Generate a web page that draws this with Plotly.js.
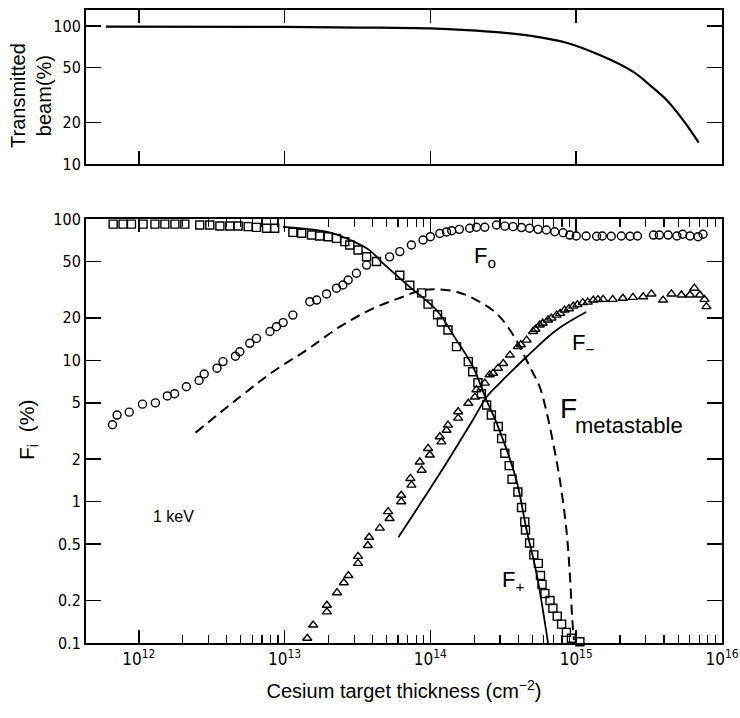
<!DOCTYPE html>
<html><head><meta charset="utf-8">
<script src="https://cdn.plot.ly/plotly-3.0.1.min.js"></script>
<style>body{margin:0;background:#fff}</style>
</head><body><div id="chart" style="width:740px;height:718px"></div>
<script>
// ---- Top panel: transmitted beam (%) vs cesium thickness (cm^-2)
const beamThickness = [5.94e11, 1e13, 3.16e13, 1e14, 1.78e14, 2.99e14, 5.01e14, 8.57e14, 1.45e15, 2.45e15, 3.20e15, 4.17e15, 5.41e15, 6.92e15];
const beamPercent   = [99, 98.5, 97.5, 96, 93.5, 90, 84.6, 75.7, 61.6, 46.7, 37.3, 29.1, 20.8, 14.3];

// ---- Bottom panel: measured fractions
const f0Thickness = [6.6e11, 7.1e11, 8.6e11, 1.06e12, 1.30e12, 1.57e12, 1.76e12, 2.12e12, 2.59e12, 2.81e12, 3.44e12, 3.78e12, 4.6e12, 4.93e12, 5.77e12, 6.41e12, 7.94e12, 8.79e12, 9.77e12, 1.14e13, 1.49e13, 1.66e13, 1.94e13, 2.27e13, 2.51e13, 2.73e13, 3.11e13, 3.65e13, 5.25e13, 6.17e13, 7.41e13, 8.91e13, 1.0e14, 1.16e14, 1.29e14, 1.40e14, 1.58e14, 1.86e14, 2.07e14, 2.36e14, 2.84e14, 3.24e14, 3.69e14, 4.22e14, 4.79e14, 5.48e14, 6.25e14, 7.13e14, 8.13e14, 9.04e14, 1.0e15, 1.17e15, 1.38e15, 1.51e15, 1.74e15, 2.04e15, 2.34e15, 2.63e15, 3.39e15, 3.72e15, 4.27e15, 4.9e15, 5.37e15, 6.03e15, 6.85e15, 7.41e15];
const f0Percent   = [3.5, 4.1, 4.3, 4.9, 5.0, 5.6, 5.8, 6.5, 7.2, 8.0, 8.8, 9.8, 10.7, 11.5, 13.2, 14.3, 16.0, 17.3, 18.5, 20.9, 26, 26.7, 29.5, 32.4, 34.1, 37, 41.3, 47.2, 54, 58.8, 65.5, 71, 75, 79, 81, 82.6, 84.5, 86, 87.4, 87.4, 90.7, 89, 88.3, 87, 86, 84.5, 83.6, 81.3, 80, 77, 75.8, 75.8, 75.5, 75.8, 75.5, 75.8, 75.5, 75.8, 77, 77, 77, 75.8, 78, 75.8, 75, 78];

const fPlusThickness = [6.67e11, 7.80e11, 8.91e11, 1.07e12, 1.29e12, 1.51e12, 1.77e12, 2.07e12, 2.62e12, 3.07e12, 3.60e12, 4.21e12, 4.80e12, 5.62e12, 6.41e12, 7.52e12, 8.55e12, 1.14e13, 1.31e13, 1.53e13, 1.74e13, 1.99e13, 2.27e13, 2.59e13, 2.80e13, 3.19e13, 3.65e13, 4.27e13, 6.17e13, 7.23e13, 8.71e13, 9.64e13, 1.12e14, 1.19e14, 1.32e14, 1.51e14, 1.82e14, 1.95e14, 2.12e14, 2.24e14, 2.43e14, 2.62e14, 2.92e14, 3.08e14, 3.24e14, 3.47e14, 3.63e14, 3.98e14, 4.22e14, 4.44e14, 4.49e14, 4.79e14, 5.12e14, 5.50e14, 5.69e14, 5.83e14, 6.10e14, 6.61e14, 6.92e14, 7.41e14, 7.94e14, 8.57e14, 9.27e14, 1.06e15];
const fPlusPercent   = [92, 92, 92, 92, 92, 92, 92, 92, 90.7, 90.7, 89.2, 89.2, 89.2, 88.3, 87.3, 86, 86, 80.5, 79.3, 77.1, 75.9, 75, 73, 69.2, 65.5, 60.3, 54.1, 50, 40, 34, 30, 25, 21, 18.7, 16.4, 12.5, 9.8, 8.3, 6.95, 5.8, 4.83, 4.1, 3.4, 2.8, 2.2, 1.8, 1.44, 1.17, 0.91, 0.72, 0.63, 0.51, 0.42, 0.366, 0.30, 0.26, 0.224, 0.20, 0.176, 0.155, 0.136, 0.119, 0.108, 0.102];

const fMinusThickness = [1.43e13, 1.57e13, 1.95e13, 1.95e13, 2.29e13, 2.55e13, 2.74e13, 3.19e13, 3.19e13, 3.72e13, 3.80e13, 4.50e13, 5.13e13, 5.25e13, 6.31e13, 6.31e13, 7.29e13, 7.41e13, 8.45e13, 8.71e13, 9.64e13, 9.91e13, 1.16e14, 1.19e14, 1.29e14, 1.32e14, 1.55e14, 1.55e14, 1.82e14, 2.02e14, 2.07e14, 2.36e14, 2.55e14, 2.69e14, 2.91e14, 3.16e14, 3.51e14, 3.98e14, 4.17e14, 4.57e14, 5.06e14, 5.25e14, 5.62e14, 5.89e14, 6.41e14, 6.76e14, 7.33e14, 7.76e14, 8.32e14, 8.91e14, 9.55e14, 1.02e15, 1.11e15, 1.20e15, 1.31e15, 1.41e15, 1.53e15, 1.78e15, 2.09e15, 2.45e15, 2.88e15, 3.28e15, 3.94e15, 4.50e15, 5.27e15, 6.03e15, 6.46e15, 7.05e15, 7.59e15, 7.82e15];
const fMinusPercent   = [0.108, 0.134, 0.166, 0.185, 0.227, 0.267, 0.30, 0.366, 0.41, 0.49, 0.56, 0.65, 0.85, 0.76, 1.11, 1.0, 1.46, 1.31, 1.91, 1.67, 2.38, 2.14, 2.88, 2.65, 3.2, 3.48, 3.9, 4.33, 4.97, 5.5, 6.2, 6.9, 7.9, 8.1, 8.8, 9.5, 10.9, 12.5, 12.9, 13.9, 16, 16.6, 17.8, 18.3, 19.3, 19.9, 20.9, 21.5, 22.7, 23.2, 24.2, 24.8, 25.6, 25.8, 26.7, 26.9, 27, 27, 27.5, 27.9, 28.2, 29.5, 26.7, 29.5, 29, 29, 32.4, 29, 27, 24];

// ---- Bottom panel: calculated curves
const fPlusCalcThickness = [9.77e12, 1.58e13, 2.15e13, 2.82e13, 3.84e13, 4.74e13, 7.24e13, 1.10e14, 1.51e14, 1.96e14, 2.43e14, 2.91e14, 3.89e14, 4.57e14, 5.35e14, 6.41e14];
const fPlusCalcPercent   = [88, 84, 79, 71, 60, 48.5, 33, 22.7, 13.9, 9.0, 5.2, 3.4, 1.42, 0.63, 0.31, 0.1];

const fMinusCalcThickness = [6.03e13, 1.16e14, 1.96e14, 2.43e14, 2.99e14, 4.57e14, 7.33e14, 1.17e15];
const fMinusCalcPercent   = [0.56, 1.58, 3.8, 5.5, 6.9, 10.6, 16.4, 22];

const fMetaThickness = [2.45e12, 4.93e12, 8.32e12, 1.41e13, 2.40e13, 4.05e13, 6.50e13, 8.45e13, 1.10e14, 1.51e14, 2.07e14, 2.84e14, 3.51e14, 4.10e14, 4.81e14, 5.62e14, 6.17e14, 6.76e14, 7.73e14, 8.57e14, 9.04e14, 9.38e14, 9.64e14];
const fMetaPercent   = [3.08, 5.5, 8.3, 11.8, 17.3, 23.3, 28.2, 31.1, 31.8, 30.6, 26.7, 21.5, 16.4, 12.5, 9.0, 6.5, 4.6, 3.0, 1.42, 0.63, 0.31, 0.153, 0.105];

// ---- Tick labels
const xTickVals = [1e12, 1e13, 1e14, 1e15, 1e16];
const xTickText = ['10<sup>12</sup>', '10<sup>13</sup>', '10<sup>14</sup>', '10<sup>15</sup>', '10<sup>16</sup>'];
const yTickVals = [0.1, 0.2, 0.5, 1, 2, 5, 10, 20, 50, 100];
const yTickText = ['0.1', '0.2', '0.5', '1', '2', '5', '10', '20', '50', '100'];
const topYTickVals = [10, 20, 50, 100];
const topYTickText = ['10', '20', '50', '100'];

const minorVals = [];
for (let d = 12; d <= 15; d++) for (let m = 2; m <= 9; m++) minorVals.push(m * Math.pow(10, d));

const TXT = 'Liberation Sans, Arial, sans-serif';
const TICK = 'Liberation Sans Narrow, DejaVu Sans Condensed, Liberation Sans, sans-serif';
const K = '#000';

const mk = (sym) => ({symbol: sym, size: 8, color: K, line: {color: K, width: 1.4}});

const traces = [
  {x: beamThickness, y: beamPercent, xaxis: 'x2', yaxis: 'y2', mode: 'lines', line: {color: K, width: 2.2, shape: 'spline'}},
  {x: fPlusCalcThickness, y: fPlusCalcPercent, mode: 'lines', line: {color: K, width: 1.8, shape: 'spline'}},
  {x: fMinusCalcThickness, y: fMinusCalcPercent, mode: 'lines', line: {color: K, width: 1.8, shape: 'spline'}},
  {x: fMetaThickness, y: fMetaPercent, mode: 'lines', line: {color: K, width: 2, shape: 'spline', dash: '10px,6px'}},
  {x: f0Thickness, y: f0Percent, mode: 'markers', marker: mk('circle-open'), cliponaxis: false},
  {x: fPlusThickness, y: fPlusPercent, mode: 'markers', marker: mk('square-open'), cliponaxis: false},
  {x: fMinusThickness, y: fMinusPercent, mode: 'markers', marker: mk('triangle-up-open'), cliponaxis: false}
];

const axBase = {showline: true, linecolor: K, linewidth: 2, mirror: 'allticks', ticks: 'inside', tickcolor: K, showgrid: false, zeroline: false};

const layout = {
  width: 740, height: 718,
  margin: {l: 86, r: 18, t: 10, b: 75},
  paper_bgcolor: '#fff', plot_bgcolor: '#fff',
  showlegend: false,
  xaxis: Object.assign({}, axBase, {
    type: 'log', range: [11.638, 16.0], domain: [0, 1], anchor: 'y',
    tickmode: 'array', tickvals: xTickVals, ticktext: xTickText, ticklen: 13, tickwidth: 1.5,
    tickfont: {family: TICK, size: 17, color: K},
    minor: {tickmode: 'array', tickvals: minorVals, ticks: 'inside', ticklen: 8, tickwidth: 1.2, tickcolor: K, showgrid: false},
    title: {text: 'Cesium target thickness (cm<sup>−2</sup>)', font: {family: TXT, size: 20, color: K}, standoff: 16}
  }),
  yaxis: Object.assign({}, axBase, {
    type: 'log', range: [-1, 2], domain: [0, 0.6698], anchor: 'x',
    tickmode: 'array', tickvals: yTickVals, ticktext: yTickText, ticklen: 15, tickwidth: 1.5,
    tickfont: {family: TICK, size: 16, color: K}
  }),
  xaxis2: Object.assign({}, axBase, {
    type: 'log', range: [11.638, 16.0], domain: [0, 1], anchor: 'y2',
    tickmode: 'array', tickvals: xTickVals, ticklen: 13, tickwidth: 1.5, showticklabels: false
  }),
  yaxis2: Object.assign({}, axBase, {
    type: 'log', range: [1, 2.116], domain: [0.7567, 1], anchor: 'x2',
    tickmode: 'array', tickvals: topYTickVals, ticktext: topYTickText, ticklen: 15, tickwidth: 1.5,
    tickfont: {family: TICK, size: 16, color: K}
  }),
  annotations: [
    {xref: 'paper', yref: 'paper', x: -0.0865, y: 0.8657, text: 'Transmitted<br>beam(%)', textangle: -90, showarrow: false, xanchor: 'center', yanchor: 'middle', font: {family: TXT, size: 20, color: K}},
    {xref: 'paper', yref: 'paper', x: -0.0912, y: 0.3365, text: 'F<sub>i</sub>  (%)', textangle: -90, showarrow: false, xanchor: 'center', yanchor: 'middle', font: {family: TXT, size: 21, color: K}},
    {xref: 'x', yref: 'y', x: 14.284, y: 1.731, text: 'F<sub>o</sub>', showarrow: false, xanchor: 'left', yanchor: 'middle', font: {family: TXT, size: 22, color: K}},
    {xref: 'x', yref: 'y', x: 14.956, y: 1.115, text: 'F<sub>−</sub>', showarrow: false, xanchor: 'left', yanchor: 'middle', font: {family: TXT, size: 22, color: K}},
    {xref: 'x', yref: 'y', x: 14.874, y: 0.66, text: 'F', showarrow: false, xanchor: 'left', yanchor: 'middle', font: {family: TXT, size: 28, color: K}},
    {xref: 'x', yref: 'y', x: 14.978, y: 0.54, text: 'metastable', showarrow: false, xanchor: 'left', yanchor: 'middle', font: {family: TXT, size: 22, color: K}},
    {xref: 'x', yref: 'y', x: 14.476, y: -0.562, text: 'F<sub>+</sub>', showarrow: false, xanchor: 'left', yanchor: 'middle', font: {family: TXT, size: 22, color: K}},
    {xref: 'x', yref: 'y', x: 12.24, y: -0.102, text: '1 keV', showarrow: false, xanchor: 'center', yanchor: 'middle', font: {family: TXT, size: 16, color: K}}
  ]
};

Plotly.newPlot('chart', traces, layout, {displayModeBar: false, staticPlot: true});
</script>
</body></html>
